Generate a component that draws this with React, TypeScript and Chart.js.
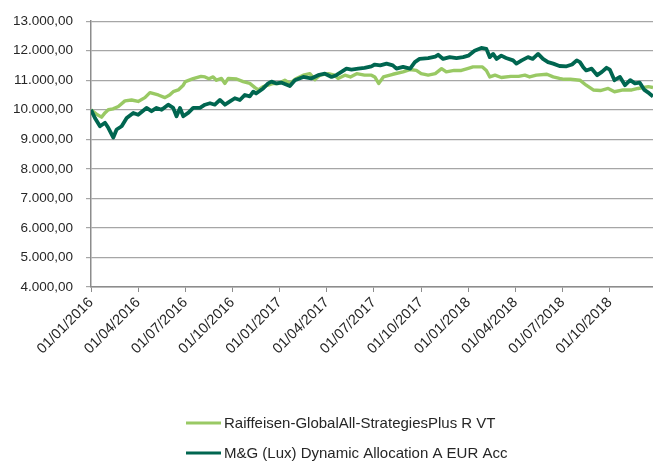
import React, { useEffect, useRef } from "react";
import { Chart, registerables } from "chart.js";

Chart.register(...registerables);

// x values are months elapsed since 01/01/2016
const seriesNames = [
  "Raiffeisen-GlobalAll-StrategiesPlus R VT",
  "M&G (Lux) Dynamic Allocation A EUR Acc",
];

const raiffeisenMonths = [
  0, 0.35, 0.67, 0.9, 1.1, 1.4, 1.74, 2.16, 2.58, 3.0, 3.43, 3.75, 4.28, 4.7, 5.0, 5.23, 5.55, 5.87, 6.0, 6.5,
  7.0, 7.25, 7.5, 7.77, 7.98, 8.3, 8.52, 8.73, 9.26, 9.68, 10.1, 10.43, 10.64, 10.95, 11.27, 11.59, 11.9, 12.33,
  12.65, 13.07, 13.5, 13.92, 14.24, 14.56, 15.1, 15.5, 15.72, 16.15, 16.5, 16.9, 17.4, 17.84, 18.05, 18.3, 18.6,
  19.2, 19.85, 20.28, 20.7, 21.0, 21.45, 21.9, 22.3, 22.6, 23.1, 23.56, 24.0, 24.3, 24.9, 25.15, 25.37, 25.7,
  26.1, 26.7, 27.2, 27.6, 27.9, 28.33, 29.0, 29.4, 29.8, 30.1, 30.5, 31.1, 31.5, 31.95, 32.4, 32.9, 33.3, 33.85,
  34.4, 34.8, 35.45, 35.75,
];
const raiffeisenValues = [
  10000, 9850, 9750, 9900, 10000, 10030, 10110, 10300, 10330, 10280, 10410, 10580, 10500, 10410, 10500, 10610,
  10670, 10830, 10950, 11050, 11130, 11110, 11050, 11110, 11000, 11060, 10890, 11060, 11040, 10950, 10890, 10750,
  10670, 10780, 10830, 10890, 10890, 11000, 10890, 11060, 11170, 11220, 11020, 11170, 11220, 11170, 11060, 11170,
  11110, 11220, 11170, 11170, 11110, 10890, 11110, 11200, 11280, 11360, 11330, 11220, 11170, 11220, 11390, 11280,
  11330, 11330, 11400, 11450, 11450, 11330, 11110, 11170, 11090, 11130, 11130, 11170, 11110, 11170, 11200, 11110,
  11060, 11030, 11030, 11000, 10830, 10670, 10650, 10720, 10610, 10670, 10670, 10720, 10780, 10750,
];

const mgMonths = [
  0, 0.25, 0.57, 0.89, 1.1, 1.42, 1.63, 1.95, 2.27, 2.69, 3.0, 3.53, 3.85, 4.17, 4.49, 4.91, 5.23, 5.44, 5.66,
  5.87, 6.2, 6.5, 6.93, 7.25, 7.57, 7.88, 8.2, 8.52, 8.84, 9.15, 9.47, 9.79, 10.1, 10.32, 10.5, 10.95, 11.27,
  11.48, 11.8, 12.1, 12.65, 12.97, 13.5, 14.0, 14.45, 14.88, 15.3, 15.6, 15.93, 16.25, 16.57, 17.0, 17.4, 17.84,
  18.05, 18.4, 18.8, 19.2, 19.43, 19.85, 20.3, 20.6, 20.9, 21.45, 21.9, 22.08, 22.4, 22.82, 23.25, 23.67, 24.0,
  24.4, 24.83, 25.15, 25.37, 25.58, 25.8, 26.1, 26.4, 26.85, 27.06, 27.4, 27.8, 28.1, 28.44, 28.75, 29.07, 29.4,
  29.8, 30.25, 30.6, 30.9, 31.1, 31.3, 31.5, 31.85, 32.2, 32.5, 32.8, 33.0, 33.3, 33.65, 33.97, 34.3, 34.6, 34.9,
  35.2, 35.5, 35.75,
];
const mgValues = [
  10000, 9720, 9440, 9560, 9390, 9060, 9330, 9440, 9720, 9890, 9830, 10060, 9950, 10060, 10000, 10170, 10060, 9780,
  10060, 9780, 9900, 10060, 10060, 10170, 10220, 10170, 10330, 10170, 10280, 10390, 10330, 10500, 10450, 10610,
  10550, 10720, 10890, 10950, 10890, 10920, 10800, 11000, 11110, 11060, 11170, 11220, 11110, 11170, 11280, 11390,
  11360, 11390, 11420, 11470, 11530, 11500, 11560, 11500, 11390, 11450, 11390, 11610, 11720, 11750, 11800, 11860,
  11720, 11780, 11750, 11780, 11830, 12000, 12090, 12060, 11780, 11890, 11720, 11830, 11750, 11670, 11560, 11670,
  11780, 11720, 11890, 11720, 11610, 11560, 11480, 11470, 11530, 11670, 11610, 11450, 11330, 11390, 11170, 11280,
  11420, 11360, 11000, 11110, 10830, 11000, 10890, 10920, 10670, 10560, 10450,
];

const xTickMonths = [0, 3, 6, 9, 12, 15, 18, 21, 24, 27, 30, 33];
const xTickLabels = [
  "01/01/2016", "01/04/2016", "01/07/2016", "01/10/2016",
  "01/01/2017", "01/04/2017", "01/07/2017", "01/10/2017",
  "01/01/2018", "01/04/2018", "01/07/2018", "01/10/2018",
];
const yMin = 4000;
const yMax = 13000;
const yStep = 1000;

const FONT = "'Liberation Sans', Arial, sans-serif";
const TEXT_COLOR = "#262626";

function formatNumber(v: number): string {
  const fixed = Math.abs(v).toFixed(2);
  const [intPart, dec] = fixed.split(".");
  const withDots = intPart.replace(/\B(?=(\d{3})+(?!\d))/g, ".");
  return (v < 0 ? "-" : "") + withDots + "," + dec;
}

const stackedLegend = {
  id: "stackedLegend",
  afterDraw(chart: any) {
    const ctx = chart.ctx;
    ctx.save();
    chart.data.datasets.forEach((ds: any, i: number) => {
      const y = 423 + i * 30;
      ctx.strokeStyle = ds.borderColor;
      ctx.lineWidth = 3;
      ctx.lineCap = "butt";
      ctx.beginPath();
      ctx.moveTo(186, y);
      ctx.lineTo(221, y);
      ctx.stroke();
      ctx.fillStyle = TEXT_COLOR;
      ctx.font = `15px ${FONT}`;
      ctx.textAlign = "left";
      ctx.textBaseline = "middle";
      ctx.fillText(ds.label, 224, y + 1);
    });
    ctx.restore();
  },
};

export default function App() {
  const ref = useRef<HTMLCanvasElement | null>(null);

  useEffect(() => {
    if (!ref.current) return;
    const chart = new Chart(ref.current, {
      type: "line",
      data: {
        datasets: [
          {
            label: seriesNames[0],
            data: raiffeisenMonths.map((m, i) => ({ x: m, y: raiffeisenValues[i] })),
            borderColor: "#99C964",
            backgroundColor: "#99C964",
            borderWidth: 3.4,
            pointRadius: 0,
            tension: 0,
            borderJoinStyle: "round",
            order: 1,
          },
          {
            label: seriesNames[1],
            data: mgMonths.map((m, i) => ({ x: m, y: mgValues[i] })),
            borderColor: "#006650",
            backgroundColor: "#006650",
            borderWidth: 3.8,
            pointRadius: 0,
            tension: 0,
            borderJoinStyle: "round",
            order: 0,
          },
        ],
      },
      options: {
        responsive: false,
        animation: false,
        layout: { padding: { top: 17, right: 0, bottom: 60, left: 0 } },
        plugins: {
          legend: { display: false },
          tooltip: { enabled: false },
        },
        scales: {
          x: {
            type: "linear",
            position: "bottom",
            min: 0,
            max: 35.75,
            afterBuildTicks: (s: any) => {
              s.ticks = xTickMonths.map((v) => ({ value: v }));
            },
            afterFit: (s: any) => {
              s.height = 120;
            },
            ticks: {
              autoSkip: false,
              minRotation: 45,
              maxRotation: 45,
              padding: 2,
              color: TEXT_COLOR,
              font: { family: FONT, size: 14.5 },
              callback: (v: any) => {
                const i = xTickMonths.indexOf(Number(v));
                return i >= 0 ? xTickLabels[i] : "";
              },
            },
            grid: {
              drawOnChartArea: false,
              drawTicks: true,
              tickLength: 5,
              color: "#8C8C8C",
            },
            border: { display: true, color: "#8C8C8C", width: 1.5 },
          },
          y: {
            min: yMin,
            max: yMax,
            afterFit: (s: any) => {
              s.width = 91;
            },
            ticks: {
              stepSize: yStep,
              padding: 13,
              color: TEXT_COLOR,
              font: { family: FONT, size: 13.5 },
              callback: (v: any) => formatNumber(Number(v)),
            },
            grid: {
              color: "#A6A6A6",
              lineWidth: 1.2,
              tickLength: 5,
            },
            border: { display: true, color: "#8C8C8C", width: 1.5 },
          },
        },
      },
      plugins: [stackedLegend],
    });
    return () => chart.destroy();
  }, []);

  return (
    <div style={{ position: "fixed", left: 0, top: 0, width: 653, height: 467, background: "#fff" }}>
      <canvas ref={ref} width={653} height={467} style={{ display: "block" }} />
    </div>
  );
}
